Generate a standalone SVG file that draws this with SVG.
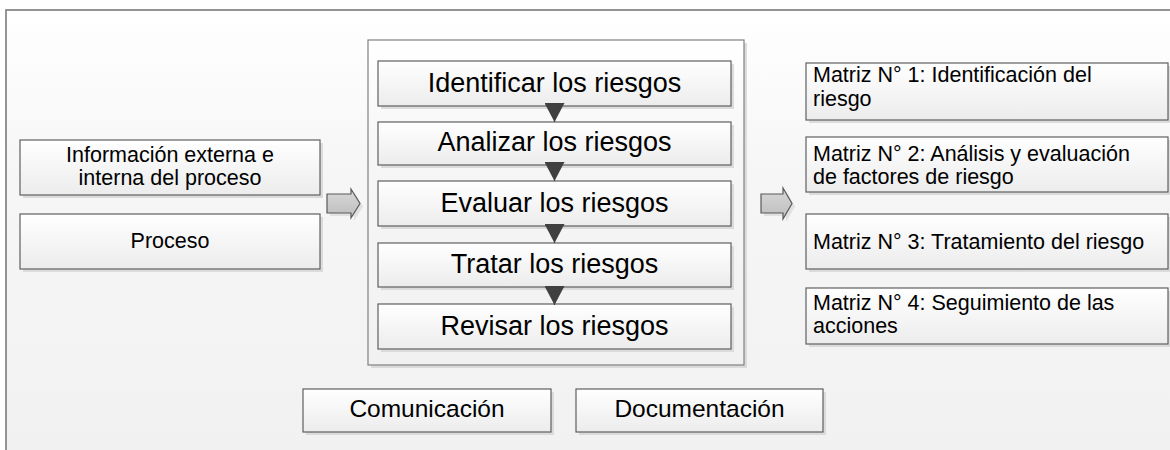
<svg xmlns="http://www.w3.org/2000/svg" width="1170" height="450" viewBox="0 0 1170 450">
<defs>
<linearGradient id="bg" x1="0" y1="0" x2="0" y2="1">
<stop offset="0" stop-color="#ffffff"/>
<stop offset="0.35" stop-color="#f6f6f6"/>
<stop offset="1" stop-color="#f1f1f1"/>
</linearGradient>
<linearGradient id="boxg" x1="0" y1="0" x2="0" y2="1">
<stop offset="0" stop-color="#ffffff"/>
<stop offset="1" stop-color="#ececec"/>
</linearGradient>
<linearGradient id="arrg" x1="0" y1="0" x2="0" y2="1">
<stop offset="0" stop-color="#d9d9d9"/>
<stop offset="1" stop-color="#bdbdbd"/>
</linearGradient>
<marker id="tri" markerUnits="userSpaceOnUse" markerWidth="20" markerHeight="20" refX="19" refY="10" orient="auto" viewBox="0 0 20 20">
<path d="M0,0 L19,10 L0,20 Z" fill="#404040"/>
</marker>
</defs>
<style>
.box{fill:url(#boxg);stroke:#5f5f5f;stroke-width:1.2}
.sh{fill:#d4d4d4;opacity:0.8}
.t{font-family:"Liberation Sans",Arial,sans-serif;fill:#000}
.big{font-size:27px;text-anchor:middle}
.mid{font-size:24.5px;text-anchor:middle}
.sm{font-size:21.5px}
.smc{font-size:21.5px;text-anchor:middle}
.conn{stroke:#404040;stroke-width:1.2;fill:none}
.blk{fill:url(#arrg);stroke:#595959;stroke-width:1.2}
</style>
<rect x="0" y="0" width="1170" height="450" fill="#ffffff"/>
<rect x="6" y="10" width="1180" height="460" fill="url(#bg)" stroke="#7a7a7a" stroke-width="1.6"/>

<g id="info">
<rect class="sh" x="23" y="143" width="300" height="55"/>
<rect class="box" x="20" y="140" width="300" height="55"/>
<text class="t smc" x="170" y="162">Información externa e</text>
<text class="t smc" x="170" y="185">interna del proceso</text>
</g>
<g id="proceso">
<rect class="sh" x="23" y="217" width="300" height="55"/>
<rect class="box" x="20" y="214" width="300" height="55"/>
<text class="t smc" x="170" y="248">Proceso</text>
</g>

<g id="contenedor">
<rect class="sh" x="371" y="43" width="376" height="325"/>
<rect x="368" y="40" width="376" height="325" fill="url(#bg)" stroke="#808080" stroke-width="1.2"/>
</g>
<g id="identificar">
<rect class="sh" x="381" y="64" width="353" height="45"/>
<rect class="box" x="378" y="61" width="353" height="45"/>
<text class="t big" x="554.5" y="92">Identificar los riesgos</text>
</g>
<g id="analizar">
<rect class="sh" x="381" y="125" width="353" height="43"/>
<rect class="box" x="378" y="122" width="353" height="43"/>
<text class="t big" x="554.5" y="151">Analizar los riesgos</text>
</g>
<g id="evaluar">
<rect class="sh" x="381" y="184" width="353" height="45"/>
<rect class="box" x="378" y="181" width="353" height="45"/>
<text class="t big" x="554.5" y="212">Evaluar los riesgos</text>
</g>
<g id="tratar">
<rect class="sh" x="381" y="246" width="353" height="44"/>
<rect class="box" x="378" y="243" width="353" height="44"/>
<text class="t big" x="554.5" y="273">Tratar los riesgos</text>
</g>
<g id="revisar">
<rect class="sh" x="381" y="307" width="353" height="45"/>
<rect class="box" x="378" y="304" width="353" height="45"/>
<text class="t big" x="554.5" y="335">Revisar los riesgos</text>
</g>

<g id="comunicacion">
<rect class="sh" x="306" y="392" width="248" height="43"/>
<rect class="box" x="303" y="389" width="248" height="43"/>
<text class="t mid" x="427" y="417">Comunicación</text>
</g>
<g id="documentacion">
<rect class="sh" x="579" y="392" width="247" height="43"/>
<rect class="box" x="576" y="389" width="247" height="43"/>
<text class="t mid" x="699.5" y="417">Documentación</text>
</g>

<g id="matriz1">
<rect class="sh" x="809" y="66" width="362" height="57"/>
<rect class="box" x="806" y="63" width="362" height="57"/>
<text class="t sm" x="813" y="82">Matriz N° 1: Identificación del</text>
<text class="t sm" x="813" y="106">riesgo</text>
</g>
<g id="matriz2">
<rect class="sh" x="809" y="140" width="362" height="55"/>
<rect class="box" x="806" y="137" width="362" height="55"/>
<text class="t sm" x="813" y="161">Matriz N° 2: Análisis y evaluación</text>
<text class="t sm" x="813" y="184">de factores de riesgo</text>
</g>
<g id="matriz3">
<rect class="sh" x="809" y="217" width="362" height="55"/>
<rect class="box" x="806" y="214" width="362" height="55"/>
<text class="t sm" x="813" y="249">Matriz N° 3: Tratamiento del riesgo</text>
</g>
<g id="matriz4">
<rect class="sh" x="809" y="291" width="362" height="56"/>
<rect class="box" x="806" y="288" width="362" height="56"/>
<text class="t sm" x="813" y="310">Matriz N° 4: Seguimiento de las</text>
<text class="t sm" x="813" y="333">acciones</text>
</g>

<g id="connectors">
<line class="conn" x1="554.5" y1="104" x2="554.5" y2="122" marker-end="url(#tri)"/>
<line class="conn" x1="554.5" y1="163" x2="554.5" y2="181" marker-end="url(#tri)"/>
<line class="conn" x1="554.5" y1="225" x2="554.5" y2="243" marker-end="url(#tri)"/>
<line class="conn" x1="554.5" y1="286" x2="554.5" y2="305" marker-end="url(#tri)"/>
<polygon points="330,197 354,197 354,192 363,206.5 354,221 354,216 330,216" fill="#d8d8d8" opacity="0.7"/>
<polygon class="blk" points="327,194 351,194 351,189 360,203.5 351,218 351,213 327,213"/>
<polygon points="764,197 786,197 786,191 795,206.5 786,222 786,216 764,216" fill="#d8d8d8" opacity="0.7"/>
<polygon class="blk" points="761,194 783,194 783,188 792,203.5 783,219 783,213 761,213"/>
</g>
</svg>
